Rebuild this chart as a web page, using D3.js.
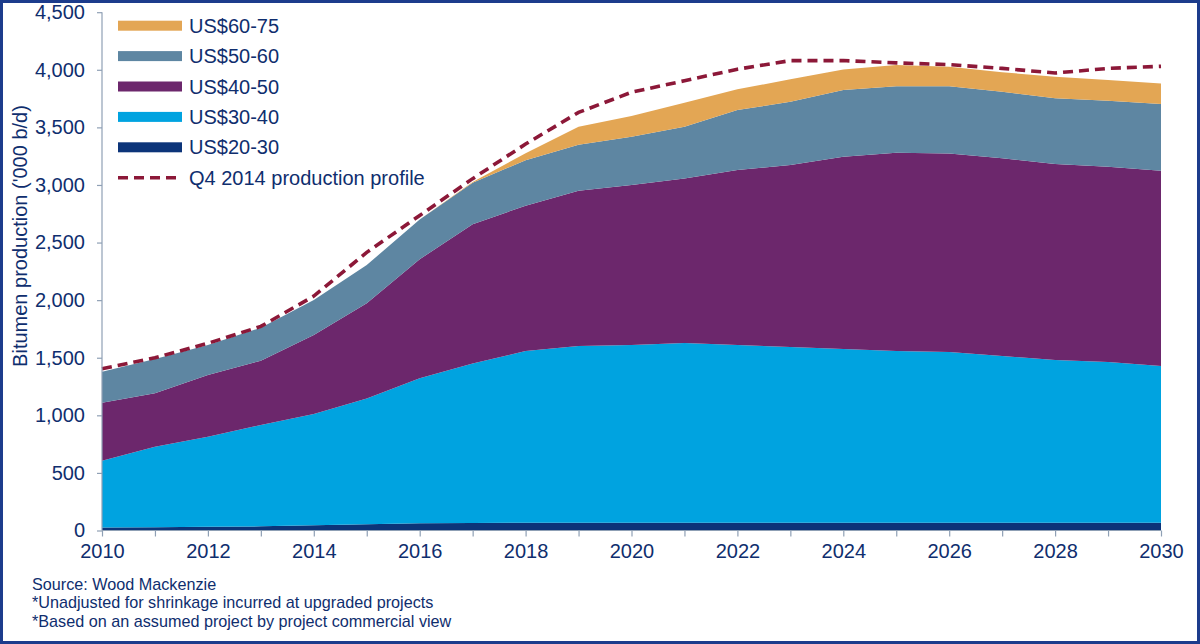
<!DOCTYPE html>
<html>
<head>
<meta charset="utf-8">
<script src="https://cdn.jsdelivr.net/npm/d3@7"></script>
<style>
html,body{margin:0;padding:0;background:#fff;}
svg{display:block;}
text{font-family:"Liberation Sans",Arial,sans-serif;}
</style>
</head>
<body>
<svg id="chart" width="1200" height="644"></svg>
<script>
const years = d3.range(2010, 2031);
const us20_30 = [25,28,32,36,45,55,62,65,68,68,68,68,68,68,68,68,68,68,68,68,68];
const us30_40 = [581,699,782,880,966,1092,1259,1386,1490,1533,1542,1560,1542,1525,1508,1490,1482,1447,1412,1395,1360];
const us40_50 = [503,464,536,558,686,825,1034,1209,1262,1349,1389,1429,1519,1580,1669,1722,1724,1716,1701,1695,1695];
const us50_60 = [270,299,260,286,304,333,345,360,395,400,419,448,521,549,579,578,584,578,571,573,579];
const us60_75 = [0,0,0,0,0,0,0,5,60,155,180,209,180,195,179,183,168,170,187,180,180];
const profileQ4_2014 = [1405,1500,1625,1772,2035,2415,2735,3055,3355,3630,3805,3905,4005,4080,4080,4060,4045,4012,3972,4012,4030];
const seriesNames = ["US$20-30","US$30-40","US$40-50","US$50-60","US$60-75"];
const seriesColors = ["#0C3479","#00A3E0","#6C276C","#5E86A2","#E3A654"];
const yTicks = [0,500,1000,1500,2000,2500,3000,3500,4000,4500];
const xLabelYears = d3.range(2010, 2031, 2);
const yTitle = "Bitumen production ('000 b/d)";
const lineName = "Q4 2014 production profile";
const notes = ["Source: Wood Mackenzie","*Unadjusted for shrinkage incurred at upgraded projects","*Based on an assumed project by project commercial view"];

const seriesValues = [us20_30, us30_40, us40_50, us50_60, us60_75];
const rows = years.map((yr, i) => {
  const r = {year: yr};
  seriesNames.forEach((n, k) => r[n] = seriesValues[k][i]);
  return r;
});

const svg = d3.select("#chart");
const navy = "#0F2E6E";
const axisCol = "#8FA0B5";

const x = d3.scaleLinear().domain([2010, 2030]).range([102, 1161]);
const y = d3.scaleLinear().domain([0, 4500]).range([530.5, 12.2]);

// frame
svg.append("rect").attr("x",1.5).attr("y",1.5).attr("width",1197).attr("height",641)
  .attr("fill","none").attr("stroke","#1C3C8C").attr("stroke-width",3);

const stack = d3.stack().keys(seriesNames);
const layers = stack(rows);
const area = d3.area().x(d => x(d.data.year)).y0(d => y(d[0])).y1(d => y(d[1]));

svg.append("g").selectAll("path").data(layers).join("path")
  .attr("d", area).attr("fill", (d, i) => seriesColors[i]);

// profile line
const line = d3.line().x((d, i) => x(years[i])).y(d => y(d));
svg.append("path").datum(profileQ4_2014).attr("d", line)
  .attr("fill","none").attr("stroke","#8C1838").attr("stroke-width",3.6)
  .attr("stroke-dasharray","10,6");

// Y axis
const yAxis = d3.axisLeft(y).tickValues(yTicks).tickSize(5).tickPadding(12)
  .tickFormat(d3.format(","));
const gy = svg.append("g").attr("transform","translate(102,0)").call(yAxis);
gy.select(".domain").attr("stroke", axisCol).attr("stroke-width",1.2).attr("d","M0,12.2V530.5");
gy.selectAll(".tick line").attr("stroke", axisCol).attr("stroke-width",1.2);
gy.selectAll(".tick text").attr("fill", navy).attr("font-size","20px")
  .attr("font-family","Liberation Sans, Arial, sans-serif");

// X axis
const xAxis = d3.axisBottom(x).tickValues(years).tickSize(6).tickPadding(7)
  .tickFormat(d => xLabelYears.includes(d) ? String(d) : "");
const gx = svg.append("g").attr("transform","translate(0,530.5)").call(xAxis);
gx.select(".domain").attr("stroke", axisCol).attr("stroke-width",1.2).attr("d","M102,0H1161");
gx.selectAll(".tick line").attr("stroke", axisCol).attr("stroke-width",1.2);
gx.selectAll(".tick text").attr("fill", navy).attr("font-size","20px")
  .attr("font-family","Liberation Sans, Arial, sans-serif");

// Y title
svg.append("text").attr("transform","translate(26.5,236) rotate(-90)")
  .attr("text-anchor","middle").attr("fill", navy).attr("font-size","20px")
  .text(yTitle);

// Legend
const legendItems = [
  {name: seriesNames[4], color: seriesColors[4], type: "rect"},
  {name: seriesNames[3], color: seriesColors[3], type: "rect"},
  {name: seriesNames[2], color: seriesColors[2], type: "rect"},
  {name: seriesNames[1], color: seriesColors[1], type: "rect"},
  {name: seriesNames[0], color: seriesColors[0], type: "rect"},
  {name: lineName, color: "#8C1838", type: "line"}
];
const lg = svg.append("g");
legendItems.forEach((it, i) => {
  const cy = 25.7 + i * 30.4;
  if (it.type === "rect") {
    lg.append("rect").attr("x",118).attr("y",cy-5).attr("width",64).attr("height",10).attr("fill",it.color);
  } else {
    lg.append("line").attr("x1",118).attr("x2",182).attr("y1",cy).attr("y2",cy)
      .attr("stroke",it.color).attr("stroke-width",3.6).attr("stroke-dasharray","10,6");
  }
  lg.append("text").attr("x",189).attr("y",cy+7).attr("fill",navy).attr("font-size","20px").text(it.name);
});

// Notes
notes.forEach((t, i) => {
  svg.append("text").attr("x",32).attr("y",589.5 + i*18.5).attr("fill",navy)
    .attr("font-size","16.2px").text(t);
});
</script>
</body>
</html>
